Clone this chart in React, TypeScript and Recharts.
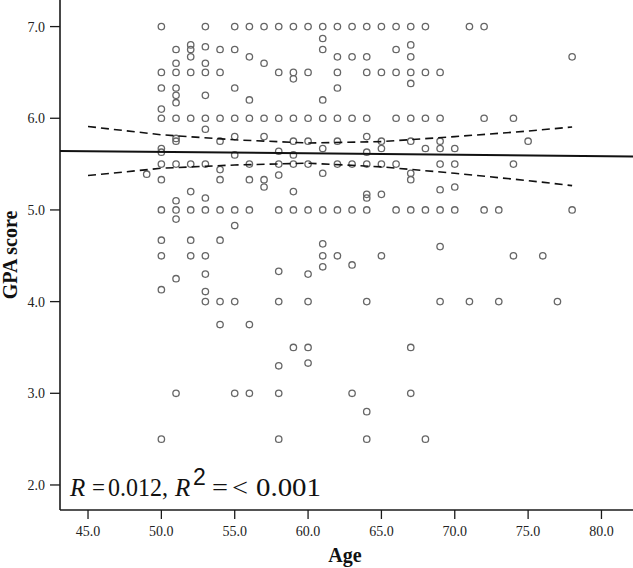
import React from 'react';
import { ScatterChart, Scatter, XAxis, YAxis } from 'recharts';

// Observed ages (x) and GPA scores for each age column
const ages = [49, 50, 51, 52, 53, 54, 55, 56, 57, 58, 59, 60, 61, 62, 63, 64, 65, 66, 67, 68, 69, 70, 71, 72, 73, 74, 75, 76, 77, 78];
const gpaByAge: number[][] = [
  [5.39],
  [7.0, 6.5, 6.33, 6.1, 6.0, 5.67, 5.63, 5.5, 5.33, 5.0, 4.67, 4.5, 4.13, 2.5],
  [6.75, 6.6, 6.5, 6.33, 6.25, 6.17, 6.0, 5.78, 5.75, 5.5, 5.1, 5.0, 4.9, 4.25, 3.0],
  [6.8, 6.75, 6.67, 6.5, 6.0, 5.5, 5.2, 5.0, 4.67, 4.5],
  [7.0, 6.78, 6.6, 6.5, 6.25, 6.0, 5.88, 5.5, 5.13, 5.0, 4.5, 4.3, 4.11, 4.0],
  [6.75, 6.5, 6.0, 5.75, 5.44, 5.33, 5.0, 4.67, 4.0, 3.75],
  [7.0, 6.75, 6.33, 6.0, 5.8, 5.6, 5.0, 4.83, 4.0, 3.0],
  [7.0, 6.67, 6.2, 6.0, 5.5, 5.33, 5.0, 3.75, 3.0],
  [7.0, 6.6, 6.0, 5.8, 5.33, 5.25],
  [7.0, 6.5, 6.0, 5.64, 5.5, 5.38, 5.0, 4.33, 4.0, 3.3, 3.0, 2.5],
  [7.0, 6.5, 6.43, 6.0, 5.75, 5.6, 5.5, 5.2, 5.0, 3.5],
  [7.0, 6.5, 6.0, 5.75, 5.5, 5.0, 4.3, 4.0, 3.5, 3.33],
  [7.0, 6.87, 6.75, 6.2, 6.0, 5.67, 5.4, 5.0, 4.63, 4.5, 4.38],
  [7.0, 6.67, 6.5, 6.33, 6.0, 5.75, 5.5, 5.0, 4.5],
  [7.0, 6.67, 6.0, 5.5, 5.0, 4.4, 3.0],
  [7.0, 6.67, 6.5, 6.0, 5.8, 5.63, 5.5, 5.17, 5.13, 5.0, 4.0, 2.8, 2.5],
  [7.0, 6.5, 5.75, 5.67, 5.5, 5.17, 4.5],
  [7.0, 6.75, 6.5, 6.0, 5.5, 5.0],
  [7.0, 6.8, 6.67, 6.5, 6.38, 6.0, 5.75, 5.4, 5.33, 5.0, 3.5, 3.0],
  [7.0, 6.5, 6.0, 5.67, 5.0, 2.5],
  [6.5, 6.0, 5.75, 5.67, 5.5, 5.22, 5.0, 4.6, 4.0],
  [5.67, 5.5, 5.25, 5.0],
  [7.0, 4.0],
  [7.0, 6.0, 5.0],
  [5.0, 4.0],
  [6.0, 5.5, 4.5],
  [5.75],
  [4.5],
  [4.0],
  [6.67, 5.0],
];

// Fit line and confidence band readings
const fitAges = [43.09, 82.15];
const fitGpa = [5.644, 5.582];
const bandAges = [45, 50, 55, 60, 65, 70, 75, 78];
const upperBand = [5.91, 5.82, 5.765, 5.73, 5.745, 5.8, 5.86, 5.905];
const lowerBand = [5.375, 5.455, 5.49, 5.51, 5.47, 5.4, 5.32, 5.265];

const xTicks = [45, 50, 55, 60, 65, 70, 75, 80];
const yTicks = [2, 3, 4, 5, 6, 7];

const points = ages.flatMap((a, i) => gpaByAge[i].map((g) => ({ x: a, y: g })));
const fitData = fitAges.map((a, i) => ({ x: a, y: fitGpa[i] }));
const upperData = bandAges.map((a, i) => ({ x: a, y: upperBand[i] }));
const lowerData = bandAges.map((a, i) => ({ x: a, y: lowerBand[i] }));

const SERIF = '"Liberation Serif", "Times New Roman", serif';
const SANS = '"Liberation Sans", Arial, sans-serif';
const axisColor = '#1a1a1a';

const Hollow = (p: any) => (
  <circle cx={p.cx} cy={p.cy} r={3.2} fill="none" stroke="#666" strokeWidth={1.3} />
);
const NoDot = () => <g />;

export default function App() {
  return (
    <div style={{ position: 'absolute', left: 0, top: 0, width: 633, height: 568, background: '#fff' }}>
      <ScatterChart width={633} height={568} margin={{ top: 0, right: 0, bottom: 0, left: 0 }}>
        <XAxis
          type="number"
          dataKey="x"
          domain={[43.09, 82.15]}
          ticks={xTicks}
          allowDataOverflow
          height={58}
          tickFormatter={(v: number) => v.toFixed(1)}
          axisLine={{ stroke: axisColor, strokeWidth: 1.6 }}
          tickLine={{ stroke: axisColor, strokeWidth: 1.3 }}
          tickSize={9}
          tickMargin={7}
          tick={{ fill: '#222', fontSize: 14, fontFamily: SERIF }}
        />
        <YAxis
          type="number"
          dataKey="y"
          domain={[1.727, 7.29]}
          ticks={yTicks}
          allowDataOverflow
          width={60}
          tickFormatter={(v: number) => v.toFixed(1)}
          axisLine={{ stroke: axisColor, strokeWidth: 1.6 }}
          tickLine={{ stroke: axisColor, strokeWidth: 1.3 }}
          tickSize={10}
          tickMargin={5}
          tick={{ fill: '#222', fontSize: 14, fontFamily: SERIF }}
        />
        <Scatter data={points} shape={Hollow} isAnimationActive={false} />
        <Scatter
          data={fitData}
          shape={NoDot}
          line={{ stroke: '#111', strokeWidth: 2 }}
          lineType="joint"
          isAnimationActive={false}
        />
        <Scatter
          data={upperData}
          shape={NoDot}
          line={{ stroke: '#111', strokeWidth: 1.6, strokeDasharray: '8 5' }}
          lineType="joint"
          isAnimationActive={false}
        />
        <Scatter
          data={lowerData}
          shape={NoDot}
          line={{ stroke: '#111', strokeWidth: 1.6, strokeDasharray: '8 5' }}
          lineType="joint"
          isAnimationActive={false}
        />
      </ScatterChart>
      <svg
        width={633}
        height={568}
        style={{ position: 'absolute', left: 0, top: 0, pointerEvents: 'none' }}
      >
        <text
          transform="translate(17,255) rotate(-90)"
          textAnchor="middle"
          fontFamily={SERIF}
          fontWeight="bold"
          fontSize={20}
          fill="#111"
        >
          GPA score
        </text>
        <text x={345} y={562} textAnchor="middle" fontFamily={SERIF} fontWeight="bold" fontSize={20} fill="#111">
          Age
        </text>
        <g fontFamily={SERIF} fontSize={25} fill="#111">
          <text x={70} y={496} fontStyle="italic">R</text>
          <text x={92} y={496} textLength={13} lengthAdjust="spacingAndGlyphs">=</text>
          <text x={108} y={496} textLength={60} lengthAdjust="spacingAndGlyphs">0.012,</text>
          <text x={175} y={496} fontStyle="italic">R</text>
          <text x={193} y={485} fontFamily={SANS} fontSize={23}>2</text>
          <text x={212} y={496} textLength={16} lengthAdjust="spacingAndGlyphs">=</text>
          <text x={232} y={496} textLength={16} lengthAdjust="spacingAndGlyphs">&lt;</text>
          <text x={256} y={496} textLength={65} lengthAdjust="spacingAndGlyphs">0.001</text>
        </g>
      </svg>
    </div>
  );
}
